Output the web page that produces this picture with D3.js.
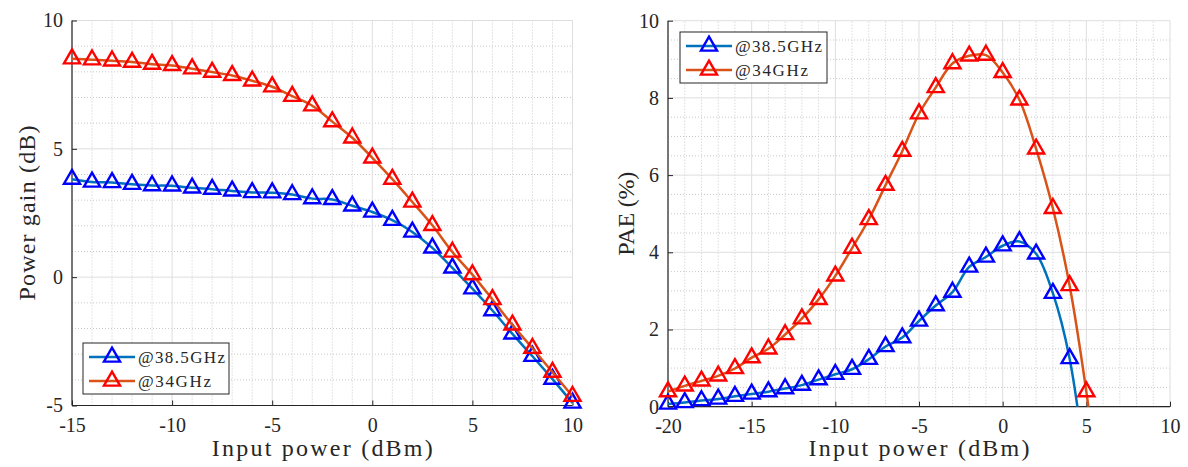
<!DOCTYPE html>
<html><head><meta charset="utf-8">
<script src="https://cdn.jsdelivr.net/npm/d3@7/dist/d3.min.js"></script>
</head><body style="margin:0">
<svg id="c" width="1188" height="467"></svg>
<script>
// ---------- data ----------
const gainInput = [-15,-14,-13,-12,-11,-10,-9,-8,-7,-6,-5,-4,-3,-2,-1,0,1,2,3,4,5,6,7,8,9,10];
const gain385 = [3.82,3.71,3.69,3.62,3.57,3.56,3.48,3.43,3.36,3.30,3.29,3.22,3.06,3.03,2.78,2.54,2.22,1.76,1.14,0.36,-0.45,-1.30,-2.21,-3.08,-3.97,-4.90];
const gain34  = [8.51,8.47,8.43,8.38,8.30,8.25,8.12,7.99,7.86,7.65,7.42,7.05,6.68,6.06,5.43,4.65,3.82,2.93,2.02,0.98,0.10,-0.87,-1.86,-2.77,-3.70,-4.64];

const paeInput385 = [-20,-19,-18,-17,-16,-15,-14,-13,-12,-11,-10,-9,-8,-7,-6,-5,-4,-3,-2,-1,0,1,2,3,4,5];
const pae385 = [0.07,0.11,0.16,0.20,0.27,0.33,0.39,0.47,0.56,0.70,0.84,0.97,1.23,1.56,1.79,2.22,2.62,2.97,3.62,3.88,4.17,4.28,3.96,2.94,1.25,-1.80];
const paeInput34 = [-20,-19,-18,-17,-16,-15,-14,-13,-12,-11,-10,-9,-8,-7,-6,-5,-4,-3,-2,-1,0,1,2,3,4,5,6];
const pae34 = [0.39,0.54,0.67,0.80,0.99,1.27,1.50,1.87,2.28,2.78,3.39,4.11,4.85,5.74,6.62,7.59,8.27,8.89,9.09,9.11,8.66,7.95,6.68,5.14,3.14,0.39,-3.00];

const seriesNames = ["@38.5GHz","@34GHz"];
const gainXTicks = [-15,-10,-5,0,5,10];
const gainYTicks = [-5,0,5,10];
const paeXTicks = [-20,-15,-10,-5,0,5,10];
const paeYTicks = [0,2,4,6,8,10];
const xLabel = "Input power (dBm)";
const gainYLabel = "Power gain (dB)";
const paeYLabel = "PAE (%)";

// ---------- style ----------
const lineColors = ["#0072BD","#D95319"];
const markerColors = ["#0000FF","#FF0000"];
const axisColor = "#262626";
const FONT = '"Liberation Serif", serif';

const svg = d3.select("#c");
const tri = d3.symbol().type(d3.symbolTriangle).size(112);

function setFont(sel, size){
  return sel.style("font-family", FONT).style("font-size", size + "px").style("fill", axisColor);
}

function panel(opt){
  const x = d3.scaleLinear().domain(opt.xDomain).range(opt.xRange);
  const y = d3.scaleLinear().domain(opt.yDomain).range(opt.yRange);
  const g = svg.append("g");
  const [x0,x1] = opt.xRange, [y0,y1] = opt.yRange;

  const xMinor = d3.range(opt.xDomain[0], opt.xDomain[1]+1e-9, opt.xMinor).filter(v=>!opt.xTicks.some(t=>Math.abs(t-v)<1e-9));
  const yMinor = d3.range(opt.yDomain[0], opt.yDomain[1]+1e-9, opt.yMinor).filter(v=>!opt.yTicks.some(t=>Math.abs(t-v)<1e-9));
  g.append("g").selectAll("line").data(xMinor).join("line")
    .attr("x1",d=>x(d)).attr("x2",d=>x(d)).attr("y1",y0).attr("y2",y1)
    .attr("stroke","#c9c9c9").attr("stroke-width",1).attr("stroke-dasharray","1,2");
  g.append("g").selectAll("line").data(yMinor).join("line")
    .attr("y1",d=>y(d)).attr("y2",d=>y(d)).attr("x1",x0).attr("x2",x1)
    .attr("stroke","#c9c9c9").attr("stroke-width",1).attr("stroke-dasharray","1,2");
  g.append("g").selectAll("line").data(opt.xTicks).join("line")
    .attr("x1",d=>x(d)).attr("x2",d=>x(d)).attr("y1",y0).attr("y2",y1)
    .attr("stroke","#dedede").attr("stroke-width",1);
  g.append("g").selectAll("line").data(opt.yTicks).join("line")
    .attr("y1",d=>y(d)).attr("y2",d=>y(d)).attr("x1",x0).attr("x2",x1)
    .attr("stroke","#dedede").attr("stroke-width",1);

  const fmt = d => d < 0 ? "-" + Math.abs(d) : String(d);
  const xAxis = d3.axisBottom(x).tickValues(opt.xTicks).tickSize(-5).tickPadding(12).tickFormat(fmt);
  const yAxis = d3.axisLeft(y).tickValues(opt.yTicks).tickSize(-5).tickPadding(9).tickFormat(fmt);
  const ax = g.append("g").attr("transform",`translate(0,${y0})`).call(xAxis);
  const ay = g.append("g").attr("transform",`translate(${x0},0)`).call(yAxis);
  [ax,ay].forEach(a=>{
    a.select(".domain").attr("stroke",axisColor).attr("stroke-width",1.2);
    a.selectAll(".tick line").attr("stroke",axisColor).attr("stroke-width",1);
    setFont(a.selectAll(".tick text"), 20);
  });
  ax.selectAll(".tick text").attr("dy","0.71em");
  ax.select(".domain").attr("d",`M${x0},0H${x1}`);
  ay.select(".domain").attr("d",`M0,${y0}V${y1}`);

  const cid = "clip"+opt.id;
  svg.append("clipPath").attr("id",cid).append("rect")
    .attr("x",x0).attr("y",y1).attr("width",x1-x0).attr("height",y0-y1);

  const line = d3.line().x(d=>x(d[0])).y(d=>y(d[1])).curve(d3.curveCatmullRom.alpha(0.5));
  opt.series.forEach((s,i)=>{
    const pts = s.xs.map((v,k)=>[v,s.ys[k]]);
    g.append("path").datum(pts).attr("d",line).attr("fill","none")
      .attr("stroke",lineColors[i]).attr("stroke-width",2.5).attr("clip-path",`url(#${cid})`);
    g.append("g").selectAll("path").data(pts.filter(p=>p[1]>=opt.yDomain[0]-0.2 && p[0]<=opt.xDomain[1]))
      .join("path").attr("d",tri).attr("transform",p=>`translate(${x(p[0])},${y(p[1])})`)
      .attr("fill","none").attr("stroke",markerColors[i]).attr("stroke-width",2.4);
  });

  setFont(g.append("text").attr("x",(x0+x1)/2).attr("y",opt.xLabelY).attr("text-anchor","middle"), 24)
    .attr("textLength",221).attr("lengthAdjust","spacing").text(xLabel);
  setFont(g.append("text").attr("transform",`translate(${opt.yLabelX},${(y0+y1)/2}) rotate(-90)`)
    .attr("text-anchor","middle"), 24)
    .attr("textLength",opt.yLabelLen).attr("lengthAdjust","spacing").text(opt.yLabel);

  const L = opt.legend;
  const lg = g.append("g").attr("transform",`translate(${L.x},${L.y})`);
  lg.append("rect").attr("width",L.w).attr("height",L.h).attr("fill","#fff")
    .attr("stroke",axisColor).attr("stroke-width",1);
  seriesNames.forEach((name,i)=>{
    const cy = 14 + i*24;
    lg.append("line").attr("x1",6).attr("x2",52).attr("y1",cy).attr("y2",cy)
      .attr("stroke",lineColors[i]).attr("stroke-width",2.5);
    lg.append("path").attr("d",tri).attr("transform",`translate(29,${cy})`)
      .attr("fill","none").attr("stroke",markerColors[i]).attr("stroke-width",2.4);
    setFont(lg.append("text").attr("x",55).attr("y",cy+6), 17)
      .attr("textLength",i===0?87:73).attr("lengthAdjust","spacing").text(name);
  });
}

panel({
  id:"L", xDomain:[-15,10], xRange:[72,572.5], yDomain:[-5,10], yRange:[405.5,20.5],
  xTicks:gainXTicks, yTicks:gainYTicks, xMinor:1, yMinor:1,
  series:[{xs:gainInput,ys:gain385},{xs:gainInput,ys:gain34}],
  xLabelY:456, yLabelX:35, yLabel:gainYLabel, yLabelLen:175,
  legend:{x:83,y:343,w:146,h:51}
});
panel({
  id:"R", xDomain:[-20,10], xRange:[668,1170], yDomain:[0,10], yRange:[406.7,20.7],
  xTicks:paeXTicks, yTicks:paeYTicks, xMinor:1, yMinor:0.5,
  series:[{xs:paeInput385,ys:pae385},{xs:paeInput34,ys:pae34}],
  xLabelY:456, yLabelX:634, yLabel:paeYLabel, yLabelLen:84,
  legend:{x:680,y:32,w:147,h:51}
});
</script>
</body></html>
